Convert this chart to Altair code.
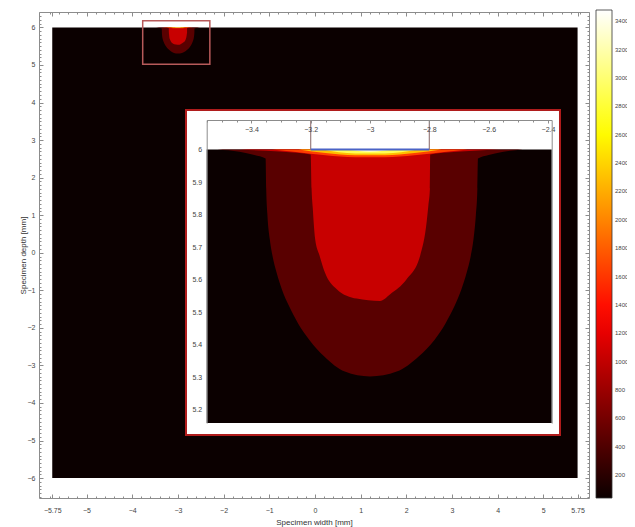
import altair as alt
import pandas as pd

# ------------------------------------------------------------------ data
MAIN_X_DOMAIN = [-6.04, 6.0]
MAIN_Y_DOMAIN = [-6.53, 6.41]
SPECIMEN_X = [-5.75, 5.75]
SPECIMEN_Y = [-6.0, 6.0]
MAIN_X_TICKS = [-5.75, -5, -4, -3, -2, -1, 0, 1, 2, 3, 4, 5, 5.75]
MAIN_Y_TICKS = [-6, -5, -4, -3, -2, -1, 0, 1, 2, 3, 4, 5, 6]
MAIN_X_MINOR = [round(-6.0 + 0.2 * i, 1) for i in range(61)
                if abs((-6.0 + 0.2 * i) - round(-6.0 + 0.2 * i)) > 1e-6]
MAIN_Y_MINOR = [round(-6.5 + 0.1 * i, 1) for i in range(130)
                if abs((-6.5 + 0.1 * i) - round(-6.5 + 0.1 * i)) > 1e-6]

INSET_X_DOMAIN = [-3.5506, -2.3874]
INSET_Y_DOMAIN = [5.16, 6.0906]
INSET_X_TICKS = [-3.4, -3.2, -3.0, -2.8, -2.6, -2.4]
INSET_Y_TICKS = [5.2, 5.3, 5.4, 5.5, 5.6, 5.7, 5.8, 5.9, 6.0]
INSET_X_MINOR = [round(-3.55 + 0.05 * i, 2) for i in range(24)
                 if abs(((-3.55 + 0.05 * i) / 0.2) - round((-3.55 + 0.05 * i) / 0.2)) > 1e-6]

ZOOM_BOX_X = [-3.77, -2.30]
ZOOM_BOX_Y = [5.02, 6.18]
INSET_BOX_X = [-2.822, 5.365]
INSET_BOX_Y = [-4.852, 3.801]

SURFACE_Y = 6.0
SOURCE_X = [-3.2, -2.8]

# temperature: background and filled contour levels (lower boundary, region reaches the surface)
T_BACKGROUND = 40
LEVEL_T = [450, 1040, 1650, 2300, 2900, 3350]
LEVEL_X = [
    [-3.515, -3.44, -3.39, -3.352, -3.350, -3.346, -3.338, -3.328, -3.315, -3.297,
     -3.273, -3.242, -3.205, -3.155, -3.085, -3.000, -2.910, -2.835, -2.782, -2.746,
     -2.715, -2.692, -2.674, -2.661, -2.651, -2.643, -2.638, -2.636, -2.60, -2.55, -2.485],
    [-3.44, -3.35, -3.26, -3.200, -3.197, -3.193, -3.190, -3.185, -3.170, -3.152,
     -3.112, -3.045, -2.966, -2.933, -2.876, -2.831, -2.809, -2.803, -2.798, -2.797,
     -2.74, -2.65, -2.56],
    [-3.33, -3.25, -3.15, -3.05, -2.95, -2.85, -2.75, -2.67],
    [-3.24, -3.15, -3.05, -2.95, -2.85, -2.76],
    [-3.16, -3.05, -2.95, -2.84],
    [-3.08, -3.0, -2.92],
]
LEVEL_Y = [
    [6.0, 5.993, 5.983, 5.972, 5.880, 5.800, 5.725, 5.670, 5.622, 5.570,
     5.519, 5.465, 5.416, 5.365, 5.318, 5.303, 5.318, 5.365, 5.416, 5.465,
     5.519, 5.570, 5.622, 5.670, 5.725, 5.800, 5.880, 5.972, 5.983, 5.993, 6.0],
    [6.0, 5.996, 5.991, 5.985, 5.880, 5.820, 5.777, 5.725, 5.674, 5.622,
     5.571, 5.542, 5.535, 5.555, 5.602, 5.674, 5.777, 5.830, 5.880, 5.985,
     5.991, 5.996, 6.0],
    [6.0, 5.992, 5.982, 5.976, 5.976, 5.982, 5.992, 6.0],
    [6.0, 5.989, 5.982, 5.982, 5.989, 6.0],
    [6.0, 5.988, 5.988, 6.0],
    [6.0, 5.993, 6.0],
]

COLOR_DOMAIN = [38, 1328.75, 2619.5, 3480]
COLOR_RANGE = ["#0b0000", "#ff0000", "#ffff00", "#ffffff"]
COLORBAR_TICKS = [200, 400, 600, 800, 1000, 1200, 1400, 1600, 1800, 2000,
                  2200, 2400, 2600, 2800, 3000, 3200, 3400]

# ------------------------------------------------------------------ layout
W, H = 550, 486
INSET_X_RANGE = [167.7, 512.7]
INSET_Y_RANGE = [411.0, 108.0]
FONT = "Liberation Sans"
NUM = ".3~g"

color_enc = alt.Color(
    "T:Q",
    scale=alt.Scale(domain=COLOR_DOMAIN, range=COLOR_RANGE, interpolate="rgb"),
    legend=alt.Legend(
        orient="none", legendX=557, legendY=-2, direction="vertical", title=None,
        values=COLORBAR_TICKS, format="d", gradientLength=488, gradientThickness=16,
        labelFontSize=6, labelColor="#444", labelFont=FONT, labelOffset=3,
        labelOverlap=False, gradientStrokeColor="#333", gradientStrokeWidth=0.8,
    ),
)

mx = alt.Scale(domain=MAIN_X_DOMAIN, zero=False, nice=False)
my = alt.Scale(domain=MAIN_Y_DOMAIN, zero=False, nice=False)
ix = alt.Scale(domain=INSET_X_DOMAIN, range=INSET_X_RANGE, zero=False, nice=False)
iy = alt.Scale(domain=INSET_Y_DOMAIN, range=INSET_Y_RANGE, zero=False, nice=False)

ax_xlab = alt.Axis(orient="bottom", values=MAIN_X_TICKS, format=NUM, ticks=False,
                   domain=False, labelPadding=8, labelOverlap=False, labelFlush=False,
                   title="Specimen width [mm]", titlePadding=5)
ax_ylab = alt.Axis(orient="left", values=MAIN_Y_TICKS, format=NUM, ticks=False,
                   domain=False, labelPadding=4, labelOverlap=False, labelFlush=False,
                   title="Specimen depth [mm]", titlePadding=0)
ax_xb = alt.Axis(orient="top", offset=-H, values=MAIN_X_TICKS, labels=False, tickSize=4, title=None)
ax_xb_m = alt.Axis(orient="top", offset=-H, values=MAIN_X_MINOR, labels=False, tickSize=2,
                   domain=False, title=None)
ax_xt = alt.Axis(orient="bottom", offset=-H, values=MAIN_X_TICKS, labels=False, tickSize=4, title=None)
ax_xt_m = alt.Axis(orient="bottom", offset=-H, values=MAIN_X_MINOR, labels=False, tickSize=2,
                   domain=False, title=None)
ax_yl = alt.Axis(orient="right", offset=-W, values=MAIN_Y_TICKS, labels=False, tickSize=4, title=None)
ax_yl_m = alt.Axis(orient="right", offset=-W, values=MAIN_Y_MINOR, labels=False, tickSize=2,
                   domain=False, title=None)
ax_yr = alt.Axis(orient="left", offset=-W, values=MAIN_Y_TICKS, labels=False, tickSize=4, title=None)
ax_yr_m = alt.Axis(orient="left", offset=-W, values=MAIN_Y_MINOR, labels=False, tickSize=2,
                   domain=False, title=None)

# inset axes, drawn above the white inset box
iax_x = alt.Axis(orient="bottom", offset=INSET_Y_RANGE[1] - H, values=INSET_X_TICKS, format=NUM,
                 tickSize=3, labelPadding=2, labelOverlap=False, labelFlush=False, title=None,
                 zindex=2)
iax_xm = alt.Axis(orient="bottom", offset=INSET_Y_RANGE[1] - H, values=INSET_X_MINOR, labels=False,
                  tickSize=2, domain=False, title=None, zindex=2)
iax_y = alt.Axis(orient="left", offset=-INSET_X_RANGE[0], values=INSET_Y_TICKS, format=NUM,
                 ticks=False, labelPadding=5, labelOverlap=False, labelFlush=False, title=None,
                 zindex=2)
iax_yr = alt.Axis(orient="right", offset=INSET_X_RANGE[1] - W, labels=False, ticks=False,
                  title=None, zindex=2)

spec_df = pd.DataFrame({"x1": [SPECIMEN_X[0]], "x2": [SPECIMEN_X[1]],
                        "y1": [SPECIMEN_Y[0]], "y2": [SPECIMEN_Y[1]], "T": [T_BACKGROUND]})
inset_bg_df = pd.DataFrame({"x1": [INSET_X_DOMAIN[0]], "x2": [INSET_X_DOMAIN[1]],
                            "y1": [INSET_Y_DOMAIN[0]], "y2": [SURFACE_Y], "T": [T_BACKGROUND]})
zoom_df = pd.DataFrame({"x1": [ZOOM_BOX_X[0]], "x2": [ZOOM_BOX_X[1]],
                        "y1": [ZOOM_BOX_Y[0]], "y2": [ZOOM_BOX_Y[1]]})
box_df = pd.DataFrame({"x1": [INSET_BOX_X[0]], "x2": [INSET_BOX_X[1]],
                       "y1": [INSET_BOX_Y[0]], "y2": [INSET_BOX_Y[1]]})
source_df = pd.DataFrame({"x1": [SOURCE_X[0]], "x2": [SOURCE_X[1]], "y": [SURFACE_Y]})
bracket_df = pd.DataFrame({"x": SOURCE_X, "y1": [SURFACE_Y] * 2, "y2": [INSET_Y_DOMAIN[1]] * 2})


def level_df(i):
    n = len(LEVEL_X[i])
    return pd.DataFrame({"x": LEVEL_X[i], "y": LEVEL_Y[i],
                         "top": [SURFACE_Y] * n, "T": [LEVEL_T[i]] * n})


def level_areas(xs, ys):
    return [
        alt.Chart(level_df(i)).mark_area(interpolate="monotone").encode(
            x=alt.X("x:Q", scale=xs, axis=None),
            y=alt.Y("y:Q", scale=ys, axis=None),
            y2=alt.Y2("top:Q"),
            color=color_enc,
        )
        for i in range(len(LEVEL_T))
    ]


def carrier(df, xs, ys, xaxis, yaxis):
    return alt.Chart(df).mark_point(opacity=0).encode(
        x=alt.X("x1:Q", scale=xs, axis=xaxis),
        y=alt.Y("y1:Q", scale=ys, axis=yaxis),
    )


def rect(df, xs, ys, xaxis=None, yaxis=None, **mark):
    return alt.Chart(df).mark_rect(**mark).encode(
        x=alt.X("x1:Q", scale=xs, axis=xaxis), x2="x2:Q",
        y=alt.Y("y1:Q", scale=ys, axis=yaxis), y2="y2:Q",
    )


main_bg = rect(spec_df, mx, my, ax_xlab, ax_ylab).encode(color=color_enc)
zoom_box = rect(zoom_df, mx, my, fillOpacity=0, stroke="#b85a5a", strokeWidth=1.5)
inset_box = rect(box_df, mx, my, fill="white", stroke="#b01c1c", strokeWidth=2)

main_layer = alt.layer(
    main_bg,
    *level_areas(mx, my),
    zoom_box,
    inset_box,
    carrier(spec_df, mx, my, ax_xb, ax_yl),
    carrier(spec_df, mx, my, ax_xb_m, ax_yl_m),
    carrier(spec_df, mx, my, ax_xt, ax_yr),
    carrier(spec_df, mx, my, ax_xt_m, ax_yr_m),
).resolve_axis(x="independent", y="independent")

inset_bg = rect(inset_bg_df, ix, iy, iax_x, iax_y).encode(color=color_enc)
source = alt.Chart(source_df).mark_rule(color="#4a63c6", strokeWidth=2).encode(
    x=alt.X("x1:Q", scale=ix, axis=None), x2="x2:Q",
    y=alt.Y("y:Q", scale=iy, axis=None),
)
bracket = alt.Chart(bracket_df).mark_rule(color="#9a7d7d", strokeWidth=1.2).encode(
    x=alt.X("x:Q", scale=ix, axis=None),
    y=alt.Y("y1:Q", scale=iy, axis=None), y2="y2:Q",
)

inset_layer = alt.layer(
    inset_bg,
    *level_areas(ix, iy),
    bracket,
    source,
    carrier(inset_bg_df, ix, iy, iax_xm, iax_yr),
).resolve_axis(x="independent", y="independent")

chart = (
    alt.layer(main_layer, inset_layer)
    .resolve_scale(x="independent", y="independent")
    .properties(
        width=W, height=H,
        autosize=alt.AutoSizeParams(type="none"),
        padding={"left": 31, "top": 4, "right": 38, "bottom": 29},
    )
    .configure_view(stroke=None)
    .configure_axis(
        grid=False, domainColor="#8c8c8c", tickColor="#8c8c8c", domainWidth=1,
        labelColor="#444", labelFont=FONT, labelFontSize=7,
        titleFont=FONT, titleFontSize=8, titleFontWeight="normal", titleColor="#333",
    )
)

chart.save("out.html", embed_options={"renderer": "svg", "actions": False})
